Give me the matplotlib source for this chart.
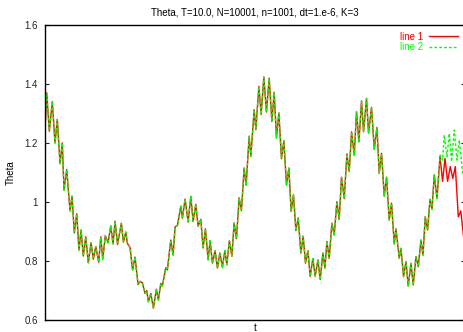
import numpy as np
import matplotlib
matplotlib.use("Agg")
import matplotlib.pyplot as plt

# shared part of both runs (t, theta) at the ripple extrema
t_common = [0.000, 0.041, 0.103, 0.174, 0.238, 0.293, 0.358, 0.412, 0.453, 0.517,
            0.596, 0.644, 0.698, 0.756, 0.810, 0.858, 0.913, 0.970, 1.032, 1.097,
            1.151, 1.209, 1.280, 1.328, 1.375, 1.437, 1.502, 1.566, 1.621, 1.669,
            1.728, 1.819, 1.867, 1.924, 1.962, 2.026, 2.086, 2.145, 2.217, 2.265,
            2.319, 2.384, 2.424, 2.462, 2.520, 2.582, 2.653, 2.701, 2.758, 2.796,
            2.877, 2.915, 2.996, 3.051, 3.099, 3.154, 3.235, 3.273, 3.337, 3.409,
            3.473, 3.528, 3.592, 3.647, 3.712, 3.766, 3.821, 3.886, 3.933, 3.988,
            4.052, 4.107, 4.165, 4.226, 4.284, 4.331, 4.393, 4.451, 4.505, 4.560,
            4.625, 4.679, 4.744, 4.791, 4.863, 4.903, 4.982, 5.023, 5.094, 5.149,
            5.213, 5.275, 5.340, 5.404, 5.459, 5.514, 5.571, 5.633, 5.690, 5.752,
            5.809, 5.864, 5.919, 5.976, 6.031, 6.095, 6.150, 6.205, 6.262, 6.317,
            6.381, 6.436, 6.501, 6.555, 6.620, 6.668, 6.715, 6.770, 6.834, 6.889,
            6.953, 7.008, 7.063, 7.128, 7.192, 7.247, 7.302, 7.366, 7.421, 7.478,
            7.540, 7.588, 7.659, 7.707, 7.778, 7.843, 7.907, 7.962, 8.017, 8.081,
            8.136, 8.200, 8.255, 8.319, 8.360, 8.439, 8.479, 8.541, 8.598, 8.653,
            8.718, 8.772, 8.837, 8.892, 8.956, 9.004, 9.058, 9.113, 9.171, 9.218,
            9.273, 9.337]
theta_common = [1.24, 1.37, 1.24, 1.34, 1.20, 1.28, 1.13, 1.20, 1.04, 1.11,
                0.97, 1.02, 0.895, 0.96, 0.837, 0.905, 0.817, 0.882, 0.794, 0.862,
                0.806, 0.849, 0.796, 0.882, 0.806, 0.886, 0.862, 0.919, 0.858, 0.935,
                0.856, 0.928, 0.864, 0.898, 0.86, 0.845, 0.77, 0.813, 0.72, 0.731,
                0.726, 0.69, 0.70, 0.662, 0.69, 0.64, 0.704, 0.668, 0.724, 0.715,
                0.778, 0.77, 0.871, 0.82, 0.916, 0.92, 0.986, 0.945, 1.01, 0.932,
                1.019, 0.934, 0.992, 0.918, 0.941, 0.844, 0.909, 0.804, 0.869, 0.793,
                0.835, 0.776, 0.827, 0.779, 0.835, 0.788, 0.869, 0.816, 0.929, 0.876,
                1.014, 0.971, 1.115, 1.057, 1.223, 1.155, 1.313, 1.245, 1.392, 1.297,
                1.424, 1.305, 1.42, 1.273, 1.372, 1.217, 1.302, 1.147, 1.208, 1.057,
                1.115, 0.968, 1.025, 0.903, 0.946, 0.827, 0.884, 0.793, 0.835, 0.748,
                0.808, 0.748, 0.804, 0.737, 0.827, 0.776, 0.866, 0.809, 0.928, 0.888,
                1.001, 0.941, 1.084, 1.012, 1.163, 1.103, 1.238, 1.159, 1.306, 1.204,
                1.343, 1.238, 1.351, 1.233, 1.321, 1.179, 1.253, 1.097, 1.165, 1.02,
                1.084, 0.939, 0.996, 0.858, 0.909, 0.809, 0.843, 0.747, 0.798, 0.715,
                0.792, 0.719, 0.815, 0.781, 0.871, 0.82, 0.95, 0.905, 1.009, 0.975,
                1.092, 1.012]

# the two runs separate near the end
t_tail1 = [9.409, 9.471, 9.528, 9.590, 9.654, 9.714, 9.774, 9.845, 9.905, 9.988]
theta_tail1 = [1.154, 1.07, 1.148, 1.07, 1.12, 1.08, 1.12, 0.95, 0.97, 0.86]
t_tail2 = [9.416, 9.471, 9.511, 9.576, 9.631, 9.685, 9.750, 9.814, 9.869, 9.948, 9.988]
theta_tail2 = [1.159, 1.142, 1.227, 1.154, 1.233, 1.137, 1.244, 1.142, 1.21, 1.10, 1.08]

y_ticks = [0.6, 0.8, 1.0, 1.2, 1.4, 1.6]
y_ticklabels = ["0.6", "0.8", "1", "1.2", "1.4", "1.6"]

plt.rcParams["font.family"] = ["Liberation Sans", "DejaVu Sans"]

fig = plt.figure(figsize=(4.64, 3.32), dpi=100)
ax = fig.add_axes([45 / 464, 12 / 332, 419.8 / 464, 295 / 332])

ax.plot(t_common + t_tail1, theta_common + theta_tail1, color="#ff0000", lw=1.0, label="line 1")
ax.plot(t_common + t_tail2, theta_common + theta_tail2, color="#00ff00", lw=1.0,
        dashes=(2, 1.5), label="line 2")

ax.set_xlim(0, 10)
ax.set_ylim(0.6, 1.6)
ax.set_xticks([])
ax.set_yticks(y_ticks)
ax.set_yticklabels(y_ticklabels)
ax.tick_params(axis="y", direction="in", length=3, width=0.8, labelsize=7,
               right=True, pad=5, colors="#222222")
for s in ax.spines.values():
    s.set_linewidth(1.0)

ax.set_title("Theta, T=10.0, N=10001, n=1001, dt=1.e-6, K=3", fontsize=7, pad=7)
ax.set_ylabel("Theta", fontsize=7, labelpad=6)
ax.set_xlabel("t", fontsize=7, labelpad=2)

ax.legend(loc="upper right", frameon=False, fontsize=7, labelcolor="linecolor",
          markerfirst=False, handlelength=3.0, handletextpad=0.6, labelspacing=0.05,
          borderaxespad=0.3, bbox_to_anchor=(1.0, 1.0))

fig.savefig("out.png", dpi=100)
